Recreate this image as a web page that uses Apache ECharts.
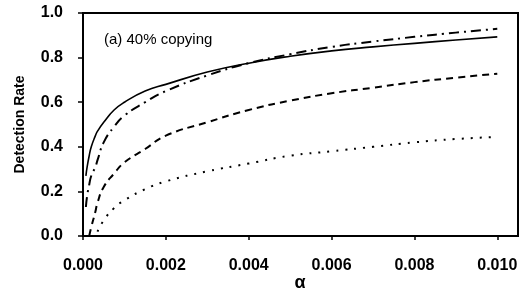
<!DOCTYPE html>
<html>
<head>
<meta charset="utf-8">
<script src="https://cdn.jsdelivr.net/npm/echarts@6/dist/echarts.min.js"></script>
<style>
	html, body { margin: 0; padding: 0; background: #fff; }
	#chart { width: 520px; height: 293px; }
</style>
</head>
<body>
<div id="chart"></div>
<script>
	// alpha grid shared by all curves (null = curve not started yet)
	var alpha = [0.00007, 0.0001, 0.00015, 0.0002, 0.0003, 0.00035, 0.0005, 0.00075, 0.001, 0.0015, 0.002, 0.003, 0.004, 0.005, 0.006, 0.007, 0.008, 0.009, 0.010];
	var solidRate   = [0.27, 0.31, 0.36, 0.40, 0.45, 0.47, 0.51, 0.565, 0.60, 0.65, 0.68, 0.735, 0.775, 0.806, 0.830, 0.848, 0.864, 0.879, 0.893];
	var dashDotRate = [0.13, 0.18, 0.23, 0.27, 0.31, 0.34, 0.42, 0.49, 0.54, 0.60, 0.65, 0.72, 0.775, 0.815, 0.848, 0.872, 0.893, 0.912, 0.929];
	var dashedRate  = [null, null, 0.0, 0.04, 0.11, 0.15, 0.22, 0.28, 0.33, 0.39, 0.45, 0.51, 0.565, 0.607, 0.64, 0.665, 0.69, 0.71, 0.728];
	var dottedRate  = [null, null, null, null, null, 0.02, 0.07, 0.125, 0.16, 0.21, 0.245, 0.29, 0.325, 0.36, 0.38, 0.40, 0.42, 0.435, 0.444];
	var panelText = '(a) 40% copying';
	var xName = 'α';

	function pairs(ys) {
		var out = [];
		for (var i = 0; i < alpha.length; i++) {
			if (ys[i] !== null) out.push([alpha[i], ys[i]]);
		}
		return out;
	}

	var font = 'Liberation Sans';
	function line(name, ys, type, width) {
		return {
			name: name, type: 'line', smooth: 0.5, symbol: 'none',
			lineStyle: { color: '#000', width: width, type: type, cap: 'butt' },
			data: pairs(ys)
		};
	}

	var option = {
		animation: false,
		backgroundColor: '#fff',
		title: {
			text: panelText, left: 99, top: 27,
			textStyle: { fontFamily: font, fontSize: 15, fontWeight: 'normal', color: '#000' }
		},
		graphic: [{
			type: 'text', x: 300, y: 283,
			style: {
				text: xName, fill: '#000', align: 'center', verticalAlign: 'middle',
				font: 'bold 18px "Liberation Sans"'
			}
		}],
		grid: {
			left: 83, right: 2, top: 13, bottom: 57,
			outerBoundsMode: 'none',
			show: true, borderColor: '#000', borderWidth: 2
		},
		xAxis: {
			type: 'value', min: 0, max: 0.0105, interval: 0.002,
			axisLine: { lineStyle: { color: '#000', width: 2 } },
			axisTick: { show: true, inside: false, length: 4, lineStyle: { color: '#000', width: 1.5 } },
			splitLine: { show: false },
			axisLabel: {
				margin: 22, fontFamily: font, fontSize: 16, fontWeight: 'bold', color: '#000',
				showMaxLabel: false,
				formatter: function (v) { return v > 0.0101 ? '' : v.toFixed(3); }
			}
		},
		yAxis: {
			type: 'value', min: 0, max: 1, interval: 0.2,
			name: 'Detection Rate', nameLocation: 'middle', nameGap: 56,
			nameTextStyle: { fontFamily: font, fontSize: 14, fontWeight: 'bold', color: '#000' },
			axisLine: { show: true, lineStyle: { color: '#000', width: 2 } },
			axisTick: { show: true, inside: false, length: 5, lineStyle: { color: '#000', width: 1.5 } },
			splitLine: { show: false },
			axisLabel: {
				margin: 20, fontFamily: font, fontSize: 16, fontWeight: 'bold', color: '#000',
				formatter: function (v) { return v.toFixed(1); }
			}
		},
		series: [
			line('solid', solidRate, 'solid', 1.6),
			line('dashdot', dashDotRate, [10, 5, 2, 5], 2),
			line('dashed', dashedRate, [7, 5], 2),
			line('dotted', dottedRate, [2, 7], 2)
		]
	};

	var chart = echarts.init(document.getElementById('chart'));
	chart.setOption(option);
</script>
</body>
</html>
